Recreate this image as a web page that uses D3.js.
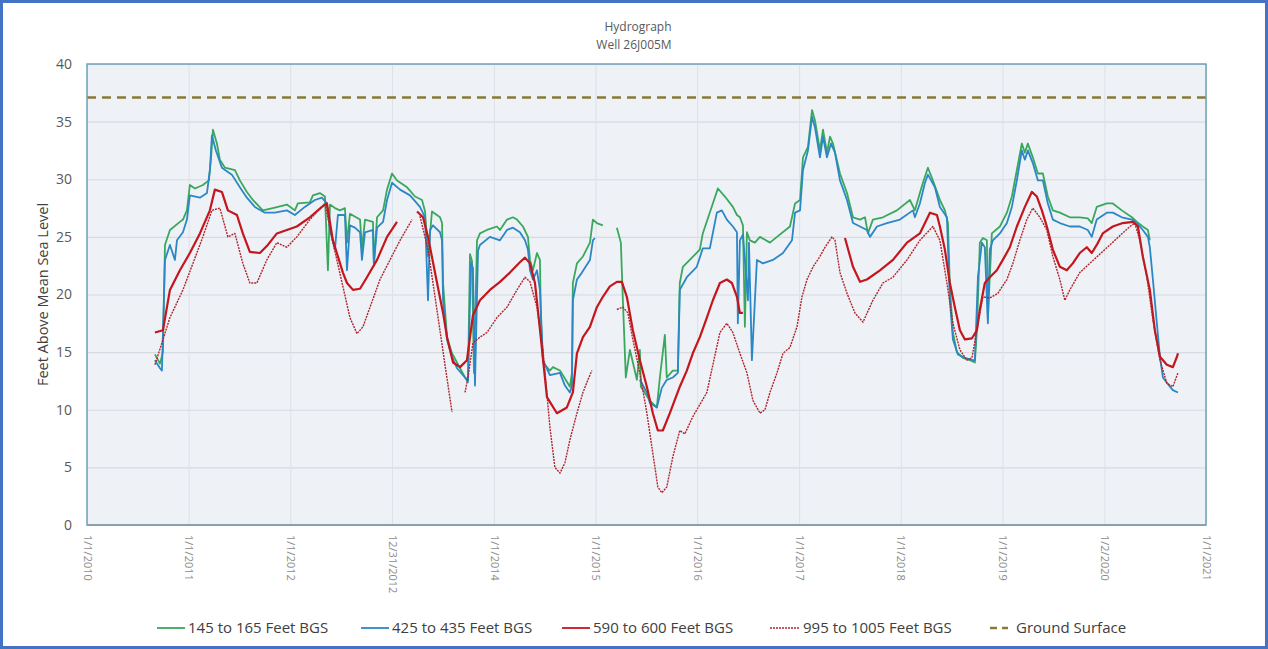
<!DOCTYPE html>
<html><head><meta charset="utf-8">
<script src="https://cdn.jsdelivr.net/npm/d3@7"></script>
<style>body{margin:0;background:#fff;} svg{display:block;font-family:"Open Sans","Noto Sans",sans-serif;}</style>
</head><body><svg id="c" width="1268" height="649"></svg>
<script>
const chartTitle = ["Hydrograph", "Well 26J005M"];
const yTitle = "Feet Above Mean Sea Level";
const xTickLabels = ["1/1/2010","1/1/2011","1/1/2012","12/31/2012","1/1/2014","1/1/2015","1/1/2016","1/1/2017","1/1/2018","1/1/2019","1/2/2020","1/1/2021"];
const yTicks = [0,5,10,15,20,25,30,35,40];
const groundSurface = 37.1;
const seriesNames = ["145 to 165 Feet BGS","425 to 435 Feet BGS","590 to 600 Feet BGS","995 to 1005 Feet BGS","Ground Surface"];

// [decimal year, feet above MSL]; null = gap in record
const s145 = [[2010.668,14.8],[2010.718,14.0],[2010.747,15.0],[2010.767,24.3],[2010.816,25.6],[2010.914,26.3],[2010.944,26.5],[2010.983,27.3],[2011.012,29.5],[2011.062,29.2],[2011.140,29.5],[2011.199,29.9],[2011.219,31.7],[2011.239,34.3],[2011.278,33.1],[2011.307,31.7],[2011.357,31.0],[2011.455,30.8],[2011.504,29.9],[2011.573,28.9],[2011.632,28.2],[2011.730,27.3],[2011.828,27.5],[2011.966,27.8],[2012.045,27.3],[2012.074,27.9],[2012.192,28.0],[2012.222,28.6],[2012.290,28.8],[2012.340,28.5],[2012.369,22.1],[2012.389,27.8],[2012.438,27.5],[2012.487,27.3],[2012.536,27.5],[2012.556,24.5],[2012.585,27.0],[2012.684,26.5],[2012.703,24.0],[2012.733,26.5],[2012.811,26.3],[2012.820,22.6],[2012.851,26.7],[2012.910,27.3],[2012.949,29.1],[2012.998,30.5],[2013.047,29.9],[2013.146,29.3],[2013.224,28.5],[2013.293,28.2],[2013.323,27.2],[2013.352,23.3],[2013.391,27.2],[2013.470,26.7],[2013.490,26.2],[2013.500,21.0],[2013.539,16.3],[2013.588,14.9],[2013.637,14.1],[2013.716,12.8],[2013.745,12.6],[2013.765,23.5],[2013.785,22.9],[2013.804,13.2],[2013.834,24.7],[2013.863,25.3],[2013.932,25.6],[2014.030,25.9],[2014.060,25.6],[2014.129,26.5],[2014.188,26.7],[2014.227,26.5],[2014.286,25.9],[2014.335,25.0],[2014.355,23.0],[2014.384,22.1],[2014.424,23.6],[2014.453,23.0],[2014.463,17.8],[2014.483,14.1],[2014.551,13.4],[2014.581,13.7],[2014.650,13.4],[2014.679,13.0],[2014.748,12.0],[2014.768,13.2],[2014.777,21.0],[2014.817,22.7],[2014.876,23.3],[2014.945,24.5],[2014.974,26.5],[2015.013,26.2],[2015.072,26.0],null,[2015.210,25.8],[2015.249,24.5],[2015.269,19.5],[2015.298,12.8],[2015.338,15.2],[2015.407,12.6],[2015.436,15.2],[2015.446,12.0],[2015.534,10.8],[2015.603,10.2],[2015.633,12.8],[2015.682,16.5],[2015.701,12.8],[2015.760,13.4],[2015.810,13.4],[2015.829,21.0],[2015.859,22.4],[2015.927,23.0],[2016.026,23.9],[2016.055,25.3],[2016.203,29.2],[2016.272,28.5],[2016.350,27.6],[2016.390,26.9],[2016.419,26.7],[2016.449,26.0],[2016.468,17.2],[2016.488,25.4],[2016.517,24.7],[2016.566,24.5],[2016.616,25.0],[2016.714,24.5],[2016.783,25.0],[2016.910,25.9],[2016.960,27.9],[2017.009,28.2],[2017.038,31.9],[2017.087,32.8],[2017.127,36.0],[2017.156,35.1],[2017.205,32.5],[2017.235,34.3],[2017.274,32.3],[2017.304,33.7],[2017.333,33.1],[2017.402,30.5],[2017.471,28.8],[2017.530,26.7],[2017.599,26.5],[2017.648,26.7],[2017.677,25.3],[2017.726,26.5],[2017.825,26.7],[2017.962,27.3],[2018.090,28.2],[2018.139,27.3],[2018.188,28.8],[2018.218,29.7],[2018.267,31.0],[2018.316,29.9],[2018.385,28.2],[2018.434,27.3],[2018.464,26.2],[2018.483,20.7],[2018.513,16.7],[2018.552,15.0],[2018.611,14.5],[2018.680,14.3],[2018.729,14.1],[2018.749,16.9],[2018.778,24.5],[2018.808,24.9],[2018.847,24.7],[2018.857,18.0],[2018.896,25.3],[2018.975,25.9],[2019.044,27.1],[2019.093,28.5],[2019.142,30.8],[2019.191,33.1],[2019.221,32.3],[2019.250,33.1],[2019.299,31.9],[2019.349,30.5],[2019.398,30.5],[2019.447,28.5],[2019.496,27.3],[2019.565,27.1],[2019.663,26.7],[2019.761,26.7],[2019.840,26.6],[2019.879,26.2],[2019.928,27.6],[2020.027,27.9],[2020.086,27.9],[2020.174,27.3],[2020.273,26.7],[2020.322,26.3],[2020.380,25.9],[2020.430,25.6],[2020.449,24.7]];

const s425 = [[2010.668,14.3],[2010.718,13.6],[2010.737,13.4],[2010.767,23.0],[2010.816,24.3],[2010.865,23.0],[2010.885,24.7],[2010.944,25.4],[2010.983,26.5],[2011.012,28.6],[2011.111,28.4],[2011.180,28.8],[2011.209,30.8],[2011.229,33.8],[2011.268,32.5],[2011.327,31.0],[2011.425,30.4],[2011.504,29.3],[2011.573,28.4],[2011.651,27.6],[2011.750,27.1],[2011.848,27.1],[2011.966,27.3],[2012.045,26.9],[2012.143,27.6],[2012.241,28.2],[2012.310,28.4],[2012.359,27.9],[2012.389,25.6],[2012.438,23.9],[2012.467,26.9],[2012.536,26.9],[2012.556,22.1],[2012.585,26.0],[2012.634,25.8],[2012.684,25.4],[2012.703,23.0],[2012.733,25.4],[2012.811,25.6],[2012.820,22.7],[2012.851,25.8],[2012.910,26.3],[2012.949,28.2],[2012.998,29.7],[2013.077,29.1],[2013.175,28.6],[2013.273,27.6],[2013.323,26.7],[2013.352,19.5],[2013.372,25.6],[2013.401,26.0],[2013.470,25.4],[2013.490,24.7],[2013.500,19.5],[2013.539,16.1],[2013.588,14.6],[2013.637,13.6],[2013.716,12.8],[2013.745,12.4],[2013.775,22.8],[2013.794,22.3],[2013.814,12.1],[2013.844,23.8],[2013.863,24.3],[2013.961,25.0],[2014.060,24.7],[2014.129,25.6],[2014.188,25.8],[2014.256,25.4],[2014.306,24.7],[2014.335,23.9],[2014.355,22.1],[2014.384,21.3],[2014.424,22.1],[2014.453,20.4],[2014.483,14.3],[2014.551,13.0],[2014.650,13.2],[2014.699,12.1],[2014.748,11.5],[2014.768,12.1],[2014.777,19.5],[2014.817,21.3],[2014.866,21.9],[2014.945,23.0],[2014.974,24.7],[2014.994,24.9],null,[2015.436,12.6],[2015.505,11.5],[2015.534,10.6],[2015.603,10.2],[2015.652,11.9],[2015.701,12.6],[2015.760,12.8],[2015.810,13.2],[2015.829,20.4],[2015.898,21.5],[2015.996,22.4],[2016.055,24.0],[2016.124,24.0],[2016.193,27.1],[2016.242,27.3],[2016.291,26.5],[2016.350,25.9],[2016.390,25.4],[2016.399,17.5],[2016.419,24.7],[2016.449,25.2],[2016.498,19.5],[2016.508,24.5],[2016.537,14.3],[2016.586,23.0],[2016.645,22.7],[2016.743,23.0],[2016.842,23.6],[2016.930,24.7],[2016.960,27.1],[2017.009,27.3],[2017.038,30.8],[2017.087,32.5],[2017.127,35.4],[2017.156,34.5],[2017.205,31.9],[2017.235,33.7],[2017.274,31.9],[2017.314,33.1],[2017.353,32.3],[2017.402,29.9],[2017.471,28.2],[2017.530,26.2],[2017.599,25.9],[2017.667,25.6],[2017.697,25.0],[2017.766,25.9],[2017.864,26.2],[2017.992,26.5],[2018.120,27.3],[2018.139,26.7],[2018.188,27.9],[2018.238,29.7],[2018.267,30.4],[2018.336,29.3],[2018.385,27.6],[2018.454,26.7],[2018.483,19.5],[2018.513,16.1],[2018.562,14.8],[2018.631,14.5],[2018.709,14.3],[2018.729,14.3],[2018.759,21.5],[2018.798,24.5],[2018.827,24.1],[2018.857,17.5],[2018.876,23.9],[2018.906,24.7],[2018.975,25.3],[2019.044,26.2],[2019.093,27.6],[2019.142,29.9],[2019.191,32.5],[2019.221,31.7],[2019.250,32.5],[2019.299,31.4],[2019.349,29.9],[2019.398,29.9],[2019.447,27.9],[2019.496,26.5],[2019.565,26.2],[2019.663,25.9],[2019.761,25.9],[2019.840,25.6],[2019.879,25.0],[2019.928,26.5],[2020.027,27.1],[2020.086,27.1],[2020.174,26.7],[2020.273,26.5],[2020.322,26.2],[2020.380,25.6],[2020.430,25.0],[2020.449,24.1],[2020.479,21.3],[2020.518,17.5],[2020.548,14.6],[2020.577,12.8],[2020.646,12.0],[2020.675,11.7],[2020.725,11.5]];

const s590 = [[2010.668,16.7],[2010.747,16.9],[2010.816,20.4],[2010.914,22.1],[2011.012,23.6],[2011.111,25.3],[2011.209,27.3],[2011.258,29.1],[2011.327,28.9],[2011.386,27.3],[2011.475,26.9],[2011.533,25.3],[2011.602,23.7],[2011.701,23.6],[2011.779,24.3],[2011.868,25.3],[2011.966,25.6],[2012.064,25.9],[2012.192,26.7],[2012.310,27.6],[2012.359,27.9],[2012.418,24.7],[2012.516,21.9],[2012.556,21.0],[2012.615,20.4],[2012.684,20.5],[2012.752,21.5],[2012.851,23.0],[2012.949,25.0],[2013.047,26.3],null,[2013.244,27.2],[2013.303,26.7],[2013.352,25.0],[2013.441,21.0],[2013.500,18.4],[2013.539,16.3],[2013.598,14.1],[2013.667,13.7],[2013.735,14.3],[2013.794,18.2],[2013.863,19.5],[2013.961,20.4],[2014.060,21.1],[2014.158,21.9],[2014.256,22.8],[2014.306,23.2],[2014.355,22.7],[2014.404,21.0],[2014.453,17.0],[2014.522,11.1],[2014.620,9.7],[2014.718,10.2],[2014.777,11.5],[2014.817,14.9],[2014.876,16.3],[2014.945,17.2],[2015.013,18.9],[2015.072,19.8],[2015.141,20.7],[2015.210,21.1],[2015.259,21.1],[2015.308,19.8],[2015.367,16.9],[2015.436,14.3],[2015.505,12.0],[2015.564,9.7],[2015.613,8.2],[2015.662,8.2],[2015.731,9.7],[2015.829,12.0],[2015.898,13.4],[2015.957,14.9],[2016.026,16.3],[2016.095,18.0],[2016.154,19.5],[2016.223,21.0],[2016.291,21.3],[2016.340,21.0],[2016.390,19.8],[2016.419,18.4],[2016.449,18.4],null,[2017.451,24.9],[2017.530,22.4],[2017.599,21.1],[2017.667,21.3],[2017.795,22.1],[2017.923,23.0],[2018.061,24.5],[2018.188,25.3],[2018.287,27.1],[2018.356,26.9],[2018.385,25.9],[2018.434,23.9],[2018.483,21.0],[2018.532,18.9],[2018.582,16.9],[2018.631,16.1],[2018.700,16.2],[2018.749,16.9],[2018.778,18.7],[2018.827,21.0],[2018.876,21.5],[2018.945,22.1],[2019.004,23.0],[2019.073,24.1],[2019.142,25.9],[2019.221,27.6],[2019.289,28.9],[2019.339,28.5],[2019.388,27.3],[2019.437,25.9],[2019.496,23.9],[2019.565,22.4],[2019.633,22.1],[2019.692,22.7],[2019.761,23.6],[2019.830,24.1],[2019.879,23.6],[2019.928,24.3],[2019.987,25.3],[2020.086,25.9],[2020.184,26.2],[2020.283,26.3],[2020.332,25.9],[2020.380,23.3],[2020.449,20.4],[2020.498,16.9],[2020.548,14.6],[2020.616,13.9],[2020.675,13.7],[2020.715,14.6],[2020.725,14.9]];

const s995 = [[2010.668,13.9],[2010.737,15.8],[2010.816,18.0],[2010.944,20.4],[2011.042,22.7],[2011.140,25.0],[2011.229,27.3],[2011.307,27.5],[2011.386,25.0],[2011.455,25.3],[2011.533,22.7],[2011.602,21.0],[2011.671,21.0],[2011.769,23.0],[2011.868,24.5],[2011.966,24.1],[2012.064,25.0],[2012.192,26.5],[2012.340,27.9],[2012.418,24.5],[2012.516,20.7],[2012.585,18.0],[2012.654,16.6],[2012.713,17.2],[2012.782,18.9],[2012.880,21.3],[2012.978,23.0],[2013.077,24.7],[2013.195,26.5],null,[2013.273,26.8],[2013.352,23.9],[2013.441,18.6],[2013.519,13.9],[2013.588,9.8],null,[2013.716,11.5],[2013.745,12.8],[2013.794,15.8],[2013.863,16.3],[2013.932,16.7],[2014.030,18.0],[2014.129,18.9],[2014.227,20.4],[2014.306,21.5],[2014.355,21.1],[2014.424,18.9],[2014.483,15.2],[2014.551,8.5],[2014.600,5.0],[2014.650,4.5],[2014.699,5.4],[2014.748,7.4],[2014.817,9.7],[2014.876,11.5],[2014.925,12.6],[2014.964,13.4],null,[2015.210,18.7],[2015.269,18.9],[2015.318,18.4],[2015.367,16.1],[2015.436,13.2],[2015.505,9.7],[2015.564,6.2],[2015.613,3.3],[2015.652,2.8],[2015.701,3.3],[2015.760,5.9],[2015.829,8.2],[2015.878,7.9],[2015.957,9.4],[2016.095,11.5],[2016.223,16.7],[2016.291,17.5],[2016.350,16.7],[2016.419,14.9],[2016.488,13.2],[2016.547,10.8],[2016.616,9.7],[2016.665,10.0],[2016.714,11.5],[2016.783,13.2],[2016.842,14.9],[2016.910,15.4],[2016.979,17.2],[2017.028,19.8],[2017.078,21.3],[2017.137,22.4],[2017.205,23.3],[2017.255,24.1],[2017.323,25.0],[2017.353,24.7],[2017.402,21.9],[2017.471,20.1],[2017.549,18.4],[2017.628,17.6],[2017.726,19.5],[2017.825,21.0],[2017.923,21.5],[2018.061,23.0],[2018.188,24.7],[2018.316,25.9],[2018.385,24.7],[2018.454,21.0],[2018.513,17.5],[2018.582,15.2],[2018.650,14.3],[2018.700,14.5],[2018.749,16.9],[2018.808,19.8],[2018.876,19.7],[2018.955,20.1],[2019.044,21.3],[2019.103,22.7],[2019.171,24.7],[2019.240,26.5],[2019.299,27.5],[2019.368,26.7],[2019.437,25.6],[2019.496,23.3],[2019.565,21.3],[2019.614,19.5],[2019.663,20.4],[2019.761,21.9],[2020.253,25.9],[2020.302,26.2],[2020.351,24.7],[2020.420,21.5],[2020.479,17.8],[2020.548,14.3],[2020.616,12.3],[2020.675,12.0],[2020.725,13.2]];

const seriesColors = ["#3aa85c","#2b87c6","#c4161c","#b0242a","#8a7a3a"];

function decYear(v){ const yr=Math.floor(v); const a=Date.UTC(yr,0,1), b=Date.UTC(yr+1,0,1); return new Date(a+(v-yr)*(b-a)); }
function parseLabel(s){ const p=s.split('/').map(Number); return new Date(Date.UTC(p[2],p[0]-1,p[1])); }

const W=1268,H=649;
const L=87,R=1206,T=64,B=525;
const svg=d3.select('#c');
const tickDates = xTickLabels.map(parseLabel);
const x=d3.scaleUtc().domain([tickDates[0], tickDates[tickDates.length-1]]).range([L,R]);
const y=d3.scaleLinear().domain([0,40]).range([B,T]);

// outer frame
svg.append('rect').attr('x',1.5).attr('y',1.5).attr('width',W-3).attr('height',H-3)
  .attr('fill','#fff').attr('stroke','#4472c4').attr('stroke-width',3);

// title
svg.append('text').attr('x',638).attr('y',31).attr('text-anchor','middle').attr('font-size',12).attr('fill','#595959').text(chartTitle[0]);
svg.append('text').attr('x',634).attr('y',49).attr('text-anchor','middle').attr('font-size',12).attr('fill','#595959').text(chartTitle[1]);

// plot background
svg.append('rect').attr('x',L).attr('y',T).attr('width',R-L).attr('height',B-T).attr('fill','#eef1f6');

// grid
const gy=svg.append('g').attr('transform',`translate(${L},0)`)
  .call(d3.axisLeft(y).tickValues(yTicks).tickSize(-(R-L)).tickFormat(''));
gy.select('.domain').remove();
gy.selectAll('line').attr('stroke','#d6dbe2').attr('stroke-width',1.2);
const gx=svg.append('g').attr('transform',`translate(0,${B})`)
  .call(d3.axisBottom(x).tickValues(tickDates).tickSize(-(B-T)).tickFormat(''));
gx.select('.domain').remove();
gx.selectAll('line').attr('stroke','#dde1e7').attr('stroke-width',1);

// y tick labels
const ya=svg.append('g').attr('transform',`translate(${L},0)`)
  .call(d3.axisLeft(y).tickValues(yTicks).tickSize(0).tickPadding(15));
ya.select('.domain').remove();
ya.selectAll('text').attr('font-size',14).attr('fill','#595959').attr('font-family','"Open Sans",sans-serif');

// x tick labels (rotated)
const xa=svg.append('g').attr('transform',`translate(0,${B})`)
  .call(d3.axisBottom(x).tickValues(tickDates).tickSize(0).tickFormat((d,i)=>xTickLabels[i]));
xa.select('.domain').remove();
xa.selectAll('text').attr('font-size',11).attr('fill','#8c8c8c').attr('font-family','"Open Sans",sans-serif')
  .attr('text-anchor','start').attr('transform','rotate(90)').attr('x',10).attr('y',0).attr('dy','0.35em');

// y title
svg.append('text').attr('transform',`translate(48,${(T+B)/2}) rotate(-90)`).attr('text-anchor','middle')
  .attr('font-size',14.5).attr('fill','#404040').text(yTitle);

// ground surface
svg.append('line').attr('x1',L).attr('x2',R).attr('y1',y(groundSurface)).attr('y2',y(groundSurface))
  .attr('stroke',seriesColors[4]).attr('stroke-width',2.5).attr('stroke-dasharray','9,6');

// series
const line=d3.line().defined(d=>d!==null).x(d=>x(decYear(d[0]))).y(d=>y(d[1]));
const defs=[
  {data:s145,color:seriesColors[0],w:1.8,dash:null},
  {data:s425,color:seriesColors[1],w:1.8,dash:null},
  {data:s590,color:seriesColors[2],w:2.2,dash:null},
  {data:s995,color:seriesColors[3],w:1.4,dash:'2,1'}
];
defs.forEach(s=>{
  const p=svg.append('path').datum(s.data).attr('d',line).attr('fill','none')
    .attr('stroke',s.color).attr('stroke-width',s.w).attr('stroke-linejoin','round');
  if(s.dash) p.attr('stroke-dasharray',s.dash);
});

// plot border
svg.append('rect').attr('x',L).attr('y',T).attr('width',R-L).attr('height',B-T)
  .attr('fill','none').attr('stroke','#6da2b8').attr('stroke-width',1.5);
svg.append('line').attr('x1',L).attr('x2',R).attr('y1',B).attr('y2',B).attr('stroke','#8a9aa8').attr('stroke-width',1.5);

// legend
const legX=[157,361,562,770,990];
const legLen=[28,28,28,30,18];
const legY=628;
seriesNames.forEach((n,i)=>{
  const ln=svg.append('line').attr('x1',legX[i]).attr('x2',legX[i]+legLen[i]).attr('y1',legY).attr('y2',legY)
    .attr('stroke',seriesColors[i]).attr('stroke-width',i===4?2.5:1.8);
  if(i===3) ln.attr('stroke-dasharray','2,1').attr('stroke-width',1.4);
  if(i===4) ln.attr('stroke-dasharray','7,5');
  svg.append('text').attr('x',legX[i]+legLen[i]+(i===4?8:3)).attr('y',legY).attr('dy','0.35em')
    .attr('font-size',15).attr('fill','#404040').text(n);
});
</script></body></html>
